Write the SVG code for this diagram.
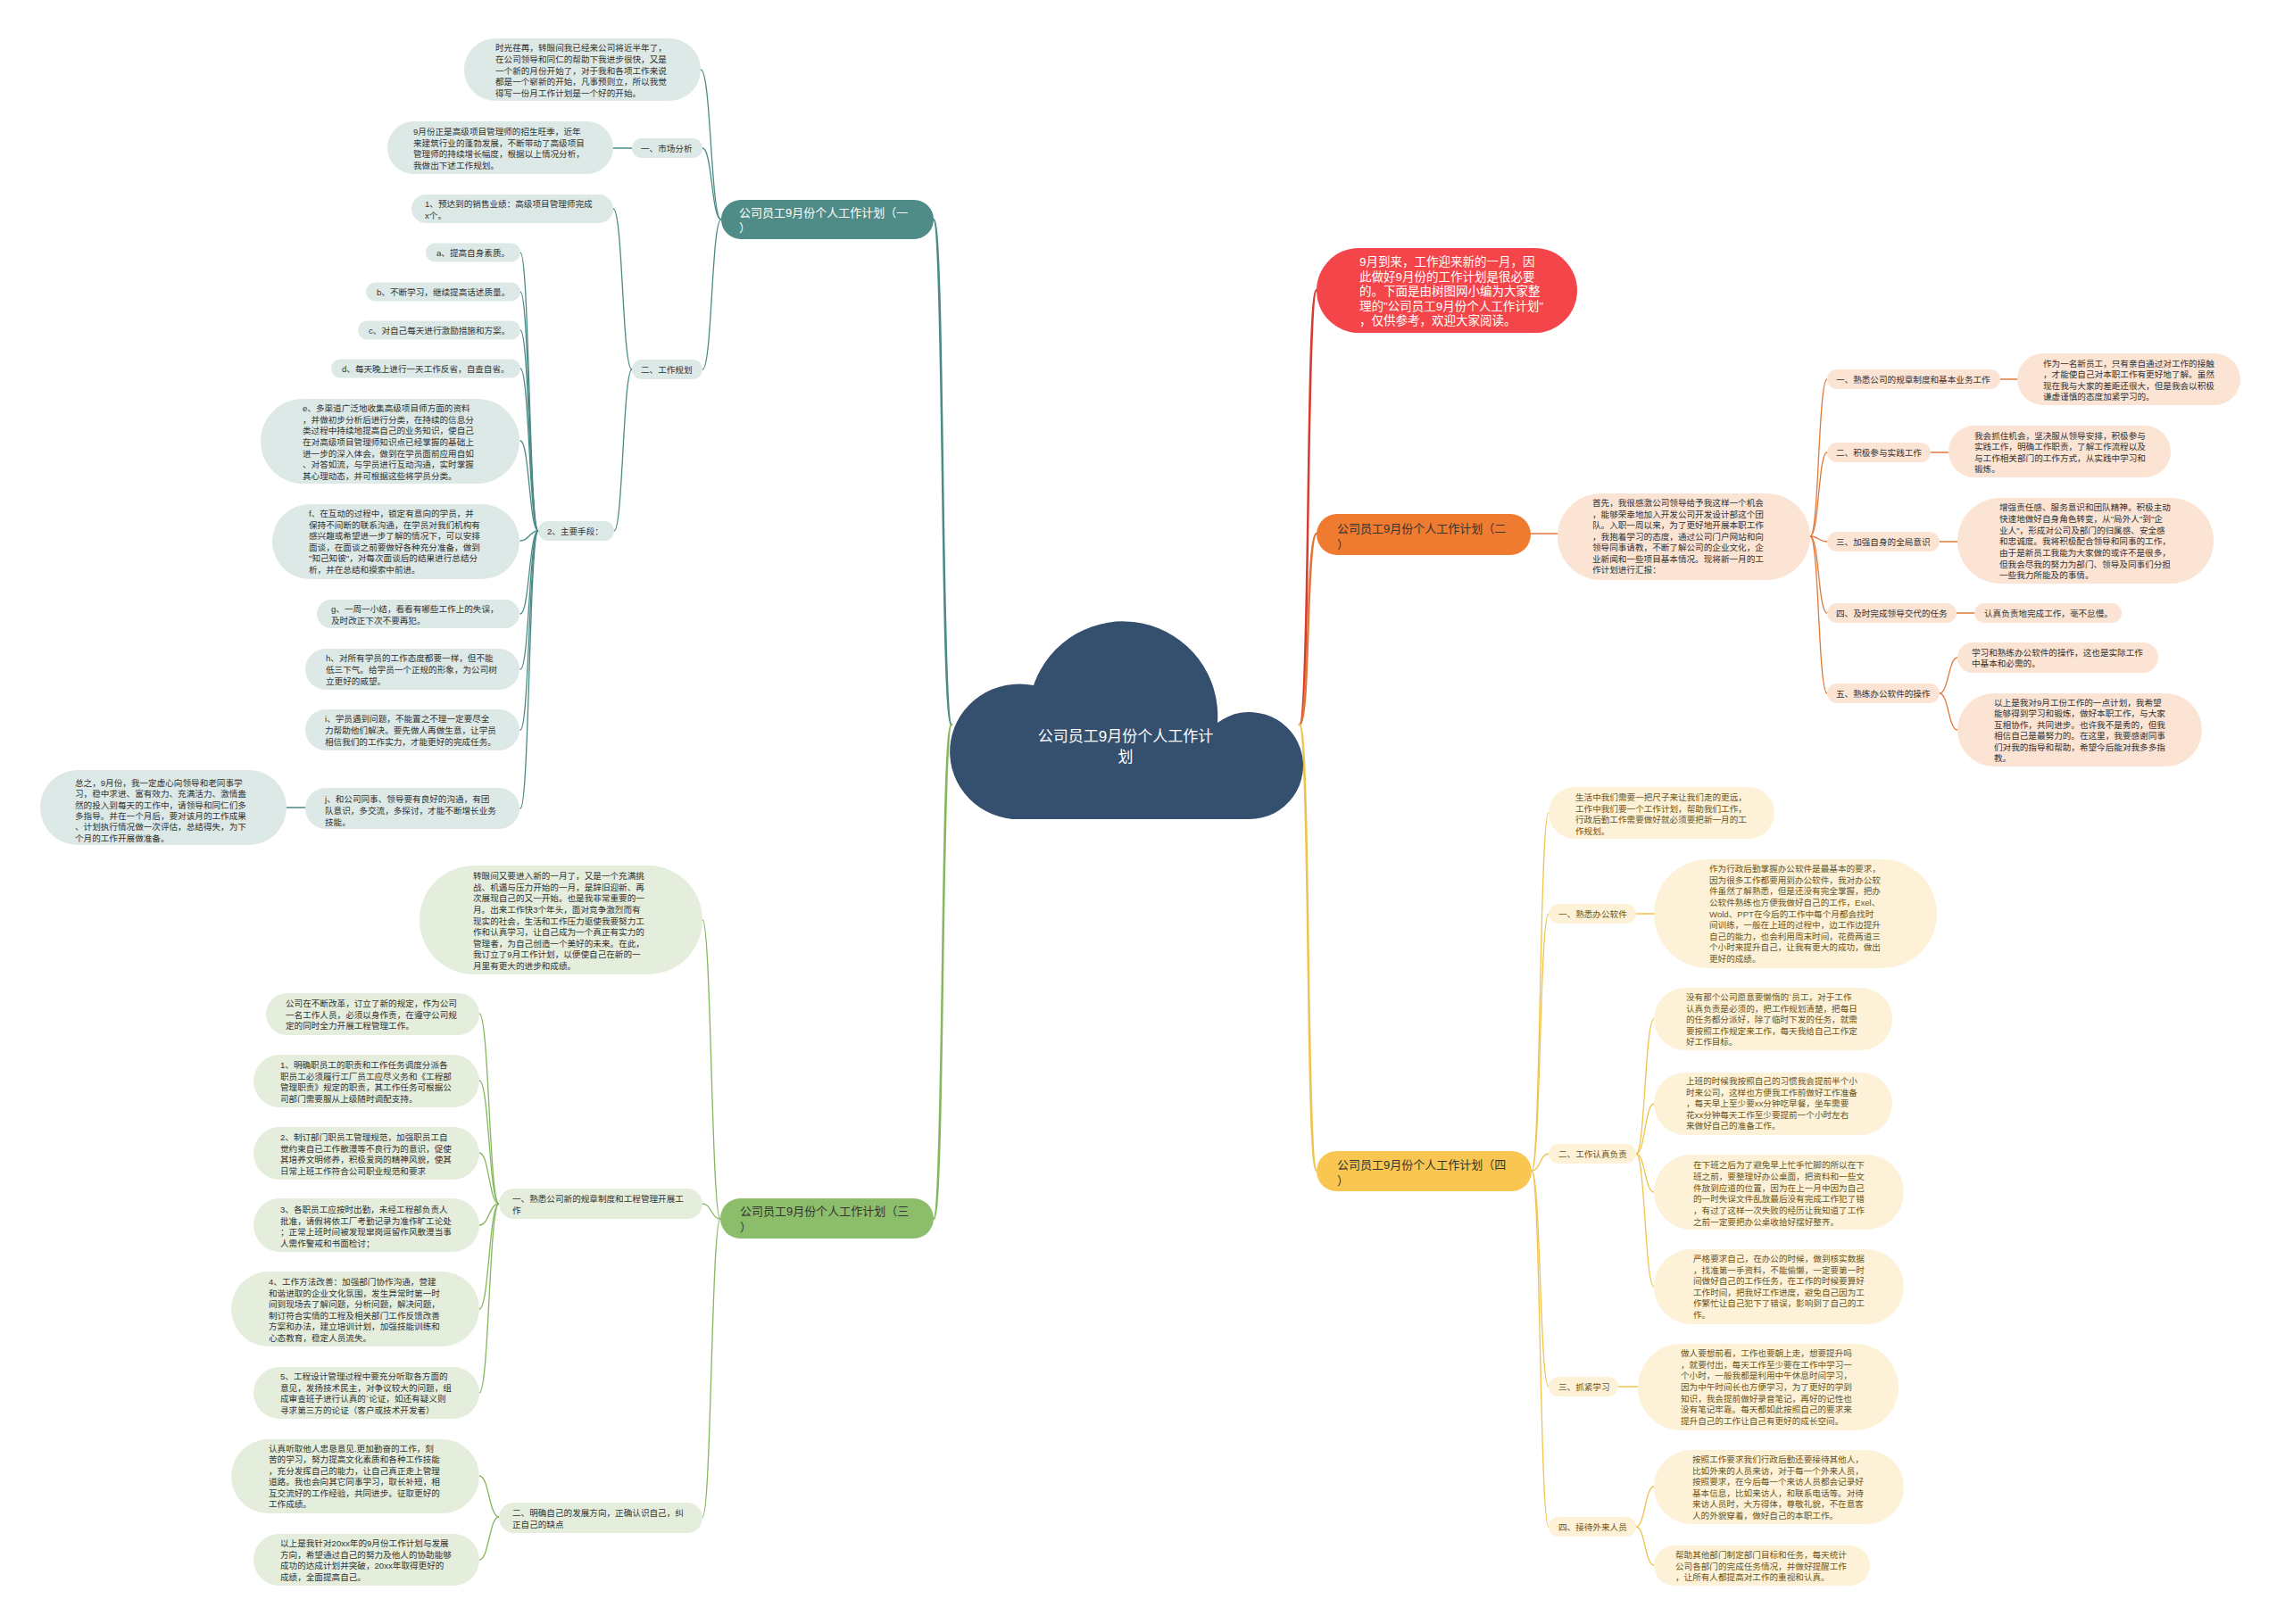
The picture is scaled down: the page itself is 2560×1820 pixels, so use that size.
<svg xmlns="http://www.w3.org/2000/svg" width="2560" height="1820" viewBox="0 0 2560 1820">
<style>
text{font-family:"Liberation Sans","Noto Sans CJK SC",sans-serif;dominant-baseline:central}
.s{font-size:9.6px;fill:#333}
.m{font-size:13px;fill:#333}
.tl rect{fill:#dde9e6}
.or rect{fill:#fce4d5}
.gr rect{fill:#e5eedd}
.yl rect{fill:#fdf2d8}
.yl text{fill:#6b5520}
#conn path{fill:none;stroke-linecap:round}
.ct{stroke:#4b8a85}.co{stroke:#e0783a}.cr{stroke:#d83b2f}.cg{stroke:#85b75f}.cy{stroke:#efc34e}
.w2{stroke-width:2.5}.w1{stroke-width:1.3}
</style>
<rect width="2560" height="1820" fill="#ffffff"/>
<g id="conn">
<path class="ct w2" d="M1066 812 C1054 812 1058 246 1046 246"/>
<path class="cg w2" d="M1066 812 C1054 812 1058 1366 1046 1366"/>
<path class="cr w2" d="M1456 812 C1468 812 1463 325 1475 325"/>
<path class="co w2" d="M1456 812 C1468 812 1463 598 1475 598"/>
<path class="cy w2" d="M1456 812 C1468 812 1463 1312 1475 1312"/>
<path class="ct w1" d="M808 246 C796 246 797 78 785 78"/>
<path class="ct w1" d="M808 246 C797 246 798 166 787 166"/>
<path class="ct w1" d="M808 246 C797 246 798 414 787 414"/>
<path class="ct w1" d="M708 166 L687 166"/>
<path class="ct w1" d="M708 414 C697 414 698 234 687 234"/>
<path class="ct w1" d="M708 414 C698 414 698 595 688 595"/>
<path class="ct w1" d="M603 595 C593 595 593 283 583 283"/>
<path class="ct w1" d="M603 595 C593 595 593 327 583 327"/>
<path class="ct w1" d="M603 595 C593 595 593 370 583 370"/>
<path class="ct w1" d="M603 595 C593 595 593 413 583 413"/>
<path class="ct w1" d="M603 595 C593 595 593 494 583 494"/>
<path class="ct w1" d="M603 595 C593 595 593 606 583 606"/>
<path class="ct w1" d="M603 595 C593 595 593 688 583 688"/>
<path class="ct w1" d="M603 595 C593 595 593 750 583 750"/>
<path class="ct w1" d="M603 595 C593 595 593 818 583 818"/>
<path class="ct w1" d="M603 595 C593 595 593 906 583 906"/>
<path class="ct w1" d="M321 905 L342 905"/>
<path class="co w1" d="M1715 598 L1745 598"/>
<path class="co w1" d="M2028 601 C2038 601 2037 425 2047 425"/>
<path class="co w1" d="M2028 601 C2038 601 2037 507 2047 507"/>
<path class="co w1" d="M2028 601 C2038 601 2037 607 2047 607"/>
<path class="co w1" d="M2028 601 C2038 601 2037 687 2047 687"/>
<path class="co w1" d="M2028 601 C2038 601 2037 777 2047 777"/>
<path class="co w1" d="M2241 425 L2260 425"/>
<path class="co w1" d="M2163 507 L2183 507"/>
<path class="co w1" d="M2173 607 L2193 607"/>
<path class="co w1" d="M2192 687 L2212 687"/>
<path class="co w1" d="M2173 777 C2183 777 2183 737 2193 737"/>
<path class="co w1" d="M2173 777 C2183 777 2183 818 2193 818"/>
<path class="cg w1" d="M807 1366 C797 1366 797 1031 787 1031"/>
<path class="cg w1" d="M807 1366 C797 1366 797 1349 787 1349"/>
<path class="cg w1" d="M807 1366 C797 1366 797 1700 787 1700"/>
<path class="cg w1" d="M559 1349 C548 1349 548 1136 537 1136"/>
<path class="cg w1" d="M559 1349 C548 1349 548 1211 537 1211"/>
<path class="cg w1" d="M559 1349 C548 1349 548 1292 537 1292"/>
<path class="cg w1" d="M559 1349 C548 1349 548 1373 537 1373"/>
<path class="cg w1" d="M559 1349 C548 1349 548 1467 537 1467"/>
<path class="cg w1" d="M559 1349 C548 1349 548 1561 537 1561"/>
<path class="cg w1" d="M559 1700 C548 1700 548 1654 537 1654"/>
<path class="cg w1" d="M559 1700 C548 1700 548 1748 537 1748"/>
<path class="cy w1" d="M1716 1312 C1726 1312 1725 911 1735 911"/>
<path class="cy w1" d="M1716 1312 C1726 1312 1725 1024 1735 1024"/>
<path class="cy w1" d="M1716 1312 C1726 1312 1725 1293 1735 1293"/>
<path class="cy w1" d="M1716 1312 C1726 1312 1725 1554 1735 1554"/>
<path class="cy w1" d="M1716 1312 C1726 1312 1725 1711 1735 1711"/>
<path class="cy w1" d="M1833 1024 L1853 1024"/>
<path class="cy w1" d="M1833 1293 C1843 1293 1843 1142 1853 1142"/>
<path class="cy w1" d="M1833 1293 C1843 1293 1843 1237 1853 1237"/>
<path class="cy w1" d="M1833 1293 C1843 1293 1843 1336 1853 1336"/>
<path class="cy w1" d="M1833 1293 C1843 1293 1843 1442 1853 1442"/>
<path class="cy w1" d="M1813 1554 L1835 1554"/>
<path class="cy w1" d="M1833 1711 C1843 1711 1843 1666 1853 1666"/>
<path class="cy w1" d="M1833 1711 C1843 1711 1843 1754 1853 1754"/>
</g>

<g id="root">
<path d="M1134 918 A78 76 0 1 1 1158 768 A106 106 0 0 1 1364 810 A60 60 0 1 1 1400 918 Z" fill="#35506e"/>
<text x="1261" y="825" text-anchor="middle" style="font-size:17px;fill:#ffffff">公司员工9月份个人工作计</text>
<text x="1261" y="848" text-anchor="middle" style="font-size:17px;fill:#ffffff">划</text>
</g>

<!-- Branch 1 -->
<g id="b1-main"><rect x="808" y="224" width="238" height="44" rx="22" fill="#4f8b87"/>
<text class="m" style="fill:#ffffff"><tspan x="828" y="238">公司员工9月份个人工作计划（一</tspan><tspan x="828" y="255">）</tspan></text></g>
<g id="b1-intro" class="tl"><rect x="520" y="43" width="265" height="70" rx="35"/>
<text class="s"><tspan x="555" y="53">时光荏苒，转眼间我已经来公司将近半年了，</tspan><tspan x="555" y="65.8">在公司领导和同仁的帮助下我进步很快，又是</tspan><tspan x="555" y="78.5">一个新的月份开始了，对于我和各项工作来说</tspan><tspan x="555" y="91.3">都是一个崭新的开始，凡事预则立，所以我觉</tspan><tspan x="555" y="104">得写一份月工作计划是一个好的开始。</tspan></text></g>
<g id="b1-s1" class="tl"><rect x="708" y="155" width="79" height="22" rx="11"/><text class="s" x="718" y="166">一、市场分析</text></g>
<g id="b1-s1-leaf" class="tl"><rect x="434" y="136" width="253" height="59" rx="29.5"/>
<text class="s"><tspan x="463" y="147">9月份正是高级项目管理师的招生旺季，近年</tspan><tspan x="463" y="159.5">来建筑行业的蓬勃发展，不断带动了高级项目</tspan><tspan x="463" y="172">管理师的持续增长幅度，根据以上情况分析，</tspan><tspan x="463" y="184.5">我做出下述工作规划。</tspan></text></g>
<g id="b1-s2" class="tl"><rect x="708" y="403" width="79" height="22" rx="11"/><text class="s" x="718" y="414">二、工作规划</text></g>
<g id="b1-p1" class="tl"><rect x="461" y="218" width="226" height="32" rx="16"/>
<text class="s"><tspan x="476" y="228">1、预达到的销售业绩：高级项目管理师完成</tspan><tspan x="476" y="240.5">x个。</tspan></text></g>
<g id="b1-p2" class="tl"><rect x="603" y="584" width="85" height="22" rx="11"/><text class="s" x="613" y="595">2、主要手段：</text></g>
<g id="b1-a" class="tl"><rect x="477" y="272.5" width="106" height="21" rx="10.5"/><text class="s" x="489" y="283">a、提高自身素质。</text></g>
<g id="b1-b" class="tl"><rect x="410" y="316.5" width="173" height="21" rx="10.5"/><text class="s" x="422" y="327">b、不断学习，继续提高话述质量。</text></g>
<g id="b1-c" class="tl"><rect x="401" y="359.5" width="182" height="21" rx="10.5"/><text class="s" x="413" y="370">c、对自己每天进行激励措施和方案。</text></g>
<g id="b1-d" class="tl"><rect x="371" y="402.5" width="212" height="21" rx="10.5"/><text class="s" x="383" y="413">d、每天晚上进行一天工作反省，自查自省。</text></g>
<g id="b1-e" class="tl"><rect x="292" y="447" width="290" height="95" rx="47.5"/>
<text class="s"><tspan x="339" y="457">e、多渠道广泛地收集高级项目师方面的资料</tspan><tspan x="339" y="469.7">，并做初步分析后进行分类，在持续的信息分</tspan><tspan x="339" y="482.3">类过程中持续地提高自己的业务知识，使自己</tspan><tspan x="339" y="495">在对高级项目管理师知识点已经掌握的基础上</tspan><tspan x="339" y="507.7">进一步的深入体会，做到在学员面前应用自如</tspan><tspan x="339" y="520.3">、对答如流，与学员进行互动沟通，实时掌握</tspan><tspan x="339" y="533">其心理动态，并可根据这些将学员分类。</tspan></text></g>
<g id="b1-f" class="tl"><rect x="305" y="565" width="277" height="84" rx="42"/>
<text class="s"><tspan x="346" y="575">f、在互动的过程中，锁定有意向的学员，并</tspan><tspan x="346" y="587.6">保持不间断的联系沟通，在学员对我们机构有</tspan><tspan x="346" y="600.2">感兴趣或希望进一步了解的情况下，可以安排</tspan><tspan x="346" y="612.8">面谈，在面谈之前要做好各种充分准备，做到</tspan><tspan x="346" y="625.4">"知己知彼"，对每次面谈后的结果进行总结分</tspan><tspan x="346" y="638">析，并在总结和摸索中前进。</tspan></text></g>
<g id="b1-g" class="tl"><rect x="355" y="672" width="227" height="32" rx="16"/>
<text class="s"><tspan x="371" y="682">g、一周一小结，看看有哪些工作上的失误，</tspan><tspan x="371" y="694.5">及时改正下次不要再犯。</tspan></text></g>
<g id="b1-h" class="tl"><rect x="342" y="727" width="240" height="46" rx="23"/>
<text class="s"><tspan x="365" y="737">h、对所有学员的工作态度都要一样，但不能</tspan><tspan x="365" y="750">低三下气。给学员一个正规的形象，为公司树</tspan><tspan x="365" y="763">立更好的威望。</tspan></text></g>
<g id="b1-i" class="tl"><rect x="342" y="795" width="240" height="46" rx="23"/>
<text class="s"><tspan x="364" y="805">i、学员遇到问题，不能置之不理一定要尽全</tspan><tspan x="364" y="818">力帮助他们解决。要先做人再做生意，让学员</tspan><tspan x="364" y="830.5">相信我们的工作实力，才能更好的完成任务。</tspan></text></g>
<g id="b1-j" class="tl"><rect x="342" y="883" width="240" height="46" rx="23"/>
<text class="s"><tspan x="364" y="895">j、和公司同事、领导要有良好的沟通，有团</tspan><tspan x="364" y="908">队意识，多交流，多探讨，才能不断增长业务</tspan><tspan x="364" y="920.5">技能。</tspan></text></g>
<g id="b1-sum" class="tl"><rect x="45" y="863" width="276" height="84" rx="42"/>
<text class="s"><tspan x="84" y="877">总之，9月份，我一定虚心向领导和老同事学</tspan><tspan x="84" y="889.3">习，稳中求进、富有效力、充满活力、激情盎</tspan><tspan x="84" y="901.6">然的投入到每天的工作中，请领导和同仁们多</tspan><tspan x="84" y="913.9">多指导。并在一个月后，要对该月的工作成果</tspan><tspan x="84" y="926.2">、计划执行情况做一次评估，总结得失，为下</tspan><tspan x="84" y="938.5">个月的工作开展做准备。</tspan></text></g>

<!-- Intro red -->
<g id="intro"><rect x="1475" y="278" width="292" height="95" rx="47.5" fill="#f3454a"/>
<text style="font-size:13.5px;fill:#ffffff"><tspan x="1523" y="293">9月到来，工作迎来新的一月，因</tspan><tspan x="1523" y="309.5">此做好9月份的工作计划是很必要</tspan><tspan x="1523" y="326">的。下面是由树图网小编为大家整</tspan><tspan x="1523" y="342.5">理的"公司员工9月份个人工作计划"</tspan><tspan x="1523" y="359">，仅供参考，欢迎大家阅读。</tspan></text></g>

<!-- Branch 2 -->
<g id="b2-main"><rect x="1475" y="576" width="240" height="46" rx="23" fill="#ee7b30"/>
<text class="m"><tspan x="1498" y="592">公司员工9月份个人工作计划（二</tspan><tspan x="1498" y="609.5">）</tspan></text></g>
<g id="b2-leaf" class="or"><rect x="1745" y="553" width="283" height="97" rx="48.5"/>
<text class="s"><tspan x="1784" y="563">首先，我很感激公司领导给予我这样一个机会</tspan><tspan x="1784" y="575.5">，能够荣幸地加入开发公司开发设计部这个团</tspan><tspan x="1784" y="588">队。入职一周以来，为了更好地开展本职工作</tspan><tspan x="1784" y="600.5">，我抱着学习的态度，通过公司门户网站和向</tspan><tspan x="1784" y="613">领导同事请教，不断了解公司的企业文化，企</tspan><tspan x="1784" y="625.5">业新闻和一些项目基本情况。现将新一月的工</tspan><tspan x="1784" y="638">作计划进行汇报：</tspan></text></g>
<g id="b2-s1" class="or"><rect x="2047" y="414" width="194" height="22" rx="11"/><text class="s" x="2057" y="425">一、熟悉公司的规章制度和基本业务工作</text></g>
<g id="b2-s1-leaf" class="or"><rect x="2260" y="396" width="250" height="58" rx="29"/>
<text class="s"><tspan x="2289" y="406.5">作为一名新员工，只有亲自通过对工作的接触</tspan><tspan x="2289" y="419">，才能使自己对本职工作有更好地了解。虽然</tspan><tspan x="2289" y="431.5">现在我与大家的差距还很大，但是我会以积极</tspan><tspan x="2289" y="444">谦虚谨慎的态度加紧学习的。</tspan></text></g>
<g id="b2-s2" class="or"><rect x="2047" y="496" width="116" height="22" rx="11"/><text class="s" x="2057" y="507">二、积极参与实践工作</text></g>
<g id="b2-s2-leaf" class="or"><rect x="2183" y="477" width="249" height="58" rx="29"/>
<text class="s"><tspan x="2212" y="487.5">我会抓住机会，坚决服从领导安排，积极参与</tspan><tspan x="2212" y="500">实践工作，明确工作职责，了解工作流程以及</tspan><tspan x="2212" y="512.5">与工作相关部门的工作方式，从实践中学习和</tspan><tspan x="2212" y="525">锻炼。</tspan></text></g>
<g id="b2-s3" class="or"><rect x="2047" y="596" width="126" height="22" rx="11"/><text class="s" x="2057" y="607">三、加强自身的全局意识</text></g>
<g id="b2-s3-leaf" class="or"><rect x="2193" y="558" width="287" height="96" rx="48"/>
<text class="s"><tspan x="2240" y="568.3">增强责任感、服务意识和团队精神。积极主动</tspan><tspan x="2240" y="581">快速地做好自身角色转变，从"局外人"到"企</tspan><tspan x="2240" y="593.6">业人"，形成对公司及部门的归属感、安全感</tspan><tspan x="2240" y="606.3">和忠诚度。我将积极配合领导和同事的工作，</tspan><tspan x="2240" y="619">由于是新员工我能为大家做的或许不是很多，</tspan><tspan x="2240" y="631.6">但我会尽我的努力为部门、领导及同事们分担</tspan><tspan x="2240" y="644.3">一些我力所能及的事情。</tspan></text></g>
<g id="b2-s4" class="or"><rect x="2047" y="676" width="145" height="22" rx="11"/><text class="s" x="2057" y="687">四、及时完成领导交代的任务</text></g>
<g id="b2-s4-leaf" class="or"><rect x="2212" y="676" width="165" height="22" rx="11"/><text class="s" x="2223" y="687">认真负责地完成工作，毫不怠慢。</text></g>
<g id="b2-s5" class="or"><rect x="2047" y="766" width="126" height="22" rx="11"/><text class="s" x="2057" y="777">五、熟练办公软件的操作</text></g>
<g id="b2-s5-leaf1" class="or"><rect x="2193" y="720" width="225" height="34" rx="17"/>
<text class="s"><tspan x="2209" y="730.5">学习和熟练办公软件的操作，这也是实际工作</tspan><tspan x="2209" y="743">中基本和必需的。</tspan></text></g>
<g id="b2-s5-leaf2" class="or"><rect x="2193" y="777" width="274" height="82" rx="41"/>
<text class="s"><tspan x="2234" y="786.5">以上是我对9月工份工作的一点计划，我希望</tspan><tspan x="2234" y="799">能够得到学习和锻炼，做好本职工作，与大家</tspan><tspan x="2234" y="811.5">互相协作，共同进步。也许我不是秀的，但我</tspan><tspan x="2234" y="824">相信自己是最努力的。在这里，我要感谢同事</tspan><tspan x="2234" y="836.5">们对我的指导和帮助，希望今后能对我多多指</tspan><tspan x="2234" y="849">教。</tspan></text></g>

<!-- Branch 3 -->
<g id="b3-main"><rect x="807" y="1343" width="239" height="45" rx="22.5" fill="#8cbd6b"/>
<text class="m"><tspan x="829" y="1357">公司员工9月份个人工作计划（三</tspan><tspan x="829" y="1374.5">）</tspan></text></g>
<g id="b3-intro" class="gr"><rect x="470" y="970" width="317" height="122" rx="61"/>
<text class="s"><tspan x="530" y="981">转眼间又要进入新的一月了，又是一个充满挑</tspan><tspan x="530" y="993.6">战、机遇与压力开始的一月，是辞旧迎新、再</tspan><tspan x="530" y="1006.2">次展现自己的又一开始。也是我非常重要的一</tspan><tspan x="530" y="1018.9">月。出来工作快3个年头，面对竞争激烈而有</tspan><tspan x="530" y="1031.5">现实的社会，生活和工作压力驱使我要努力工</tspan><tspan x="530" y="1044.1">作和认真学习，让自己成为一个真正有实力的</tspan><tspan x="530" y="1056.7">管理者，为自己创造一个美好的未来。在此，</tspan><tspan x="530" y="1069.4">我订立了9月工作计划，以便使自己在新的一</tspan><tspan x="530" y="1082">月里有更大的进步和成绩。</tspan></text></g>
<g id="b3-s1" class="gr"><rect x="559" y="1332" width="228" height="34" rx="17"/>
<text class="s"><tspan x="574" y="1343">一、熟悉公司新的规章制度和工程管理开展工</tspan><tspan x="574" y="1355.5">作</tspan></text></g>
<g id="b3-c1" class="gr"><rect x="298" y="1113" width="239" height="47" rx="23.5"/>
<text class="s"><tspan x="320" y="1124">公司在不断改革，订立了新的规定，作为公司</tspan><tspan x="320" y="1136.7">一名工作人员，必须以身作责，在遵守公司规</tspan><tspan x="320" y="1149.3">定的同时全力开展工程管理工作。</tspan></text></g>
<g id="b3-c2" class="gr"><rect x="284" y="1182" width="253" height="59" rx="29.5"/>
<text class="s"><tspan x="314" y="1193">1、明确职员工的职责和工作任务调度分派各</tspan><tspan x="314" y="1205.7">职员工必须履行工厂员工应尽义务和《工程部</tspan><tspan x="314" y="1218.3">管理职责》规定的职责，其工作任务可根据公</tspan><tspan x="314" y="1231">司部门需要服从上级随时调配支持。</tspan></text></g>
<g id="b3-c3" class="gr"><rect x="284" y="1263" width="253" height="59" rx="29.5"/>
<text class="s"><tspan x="314" y="1274">2、制订部门职员工管理规范，加强职员工自</tspan><tspan x="314" y="1286.5">觉约束自已工作散漫等不良行为的意识，促使</tspan><tspan x="314" y="1299">其培养文明修养，积极爱岗的精神风貌，使其</tspan><tspan x="314" y="1311.5">日常上班工作符合公司职业规范和要求</tspan></text></g>
<g id="b3-c4" class="gr"><rect x="284" y="1343" width="253" height="60" rx="30"/>
<text class="s"><tspan x="314" y="1355">3、各职员工应按时出勤，未经工程部负责人</tspan><tspan x="314" y="1367.5">批准，请假将依工厂考勤记录为准作旷工论处</tspan><tspan x="314" y="1380">；正常上班时间被发现窜岗逗留作风散漫当事</tspan><tspan x="314" y="1392.5">人需作警戒和书面检讨；</tspan></text></g>
<g id="b3-c5" class="gr"><rect x="259" y="1425" width="278" height="84" rx="42"/>
<text class="s"><tspan x="301" y="1436">4、工作方法改善：加强部门协作沟通，营建</tspan><tspan x="301" y="1448.6">和谐进取的企业文化氛围，发生异常时第一时</tspan><tspan x="301" y="1461.2">间到现场去了解问题，分析问题，解决问题，</tspan><tspan x="301" y="1473.8">制订符合实情的工程及相关部门工作反馈改善</tspan><tspan x="301" y="1486.4">方案和办法，建立培训计划，加强技能训练和</tspan><tspan x="301" y="1499">心态教育，稳定人员流失。</tspan></text></g>
<g id="b3-c6" class="gr"><rect x="284" y="1532" width="253" height="58" rx="29"/>
<text class="s"><tspan x="314" y="1542">5、工程设计管理过程中要充分听取各方面的</tspan><tspan x="314" y="1554.7">意见，发扬技术民主，对争议较大的问题，组</tspan><tspan x="314" y="1567.3">成审查班子进行认真的`论证，如还有疑义则</tspan><tspan x="314" y="1580">寻求第三方的论证（客户或技术开发者）</tspan></text></g>
<g id="b3-s2" class="gr"><rect x="559" y="1684" width="228" height="34" rx="17"/>
<text class="s"><tspan x="574" y="1695">二、明确自己的发展方向，正确认识自己，纠</tspan><tspan x="574" y="1707.5">正自己的缺点</tspan></text></g>
<g id="b3-d1" class="gr"><rect x="259" y="1613" width="278" height="83" rx="41.5"/>
<text class="s"><tspan x="301" y="1623">认真听取他人忠恳意见.更加勤奋的工作，刻</tspan><tspan x="301" y="1635.4">苦的学习，努力提高文化素质和各种工作技能</tspan><tspan x="301" y="1647.8">，充分发挥自己的能力，让自己真正走上管理</tspan><tspan x="301" y="1660.2">道路。我也会向其它同事学习，取长补短，相</tspan><tspan x="301" y="1672.6">互交流好的工作经验，共同进步。征取更好的</tspan><tspan x="301" y="1685">工作成绩。</tspan></text></g>
<g id="b3-d2" class="gr"><rect x="284" y="1719" width="253" height="58" rx="29"/>
<text class="s"><tspan x="314" y="1729">以上是我针对20xx年的9月份工作计划与发展</tspan><tspan x="314" y="1741.7">方向，希望通过自己的努力及他人的协助能够</tspan><tspan x="314" y="1754.3">成功的达成计划并突破，20xx年取得更好的</tspan><tspan x="314" y="1767">成绩，全面提高自己。</tspan></text></g>

<!-- Branch 4 -->
<g id="b4-main"><rect x="1475" y="1290" width="241" height="45" rx="22.5" fill="#f8c651"/>
<text class="m"><tspan x="1498" y="1305">公司员工9月份个人工作计划（四</tspan><tspan x="1498" y="1323">）</tspan></text></g>
<g id="b4-intro" class="yl"><rect x="1735" y="882" width="253" height="58" rx="29"/>
<text class="s"><tspan x="1765" y="893">生活中我们需要一把尺子来让我们走的更远，</tspan><tspan x="1765" y="905.5">工作中我们要一个工作计划，帮助我们工作，</tspan><tspan x="1765" y="918">行政后勤工作需要做好就必须要把新一月的工</tspan><tspan x="1765" y="930.5">作规划。</tspan></text></g>
<g id="b4-s1" class="yl"><rect x="1735" y="1013" width="98" height="22" rx="11"/><text class="s" x="1746" y="1024">一、熟悉办公软件</text></g>
<g id="b4-s1-leaf" class="yl"><rect x="1853" y="963" width="317" height="122" rx="61"/>
<text class="s"><tspan x="1915" y="973">作为行政后勤掌握办公软件是最基本的要求，</tspan><tspan x="1915" y="985.6">因为很多工作都要用到办公软件，我对办公软</tspan><tspan x="1915" y="998.2">件虽然了解熟悉，但是还没有完全掌握，把办</tspan><tspan x="1915" y="1010.9">公软件熟练也方便我做好自己的工作，Exel、</tspan><tspan x="1915" y="1023.5">Wold、PPT在今后的工作中每个月都会找时</tspan><tspan x="1915" y="1036.1">间训练，一般在上班的过程中，边工作边提升</tspan><tspan x="1915" y="1048.7">自己的能力，也会利用周末时间，花费两道三</tspan><tspan x="1915" y="1061.4">个小时来提升自己，让我有更大的成功，做出</tspan><tspan x="1915" y="1074">更好的成绩。</tspan></text></g>
<g id="b4-s2" class="yl"><rect x="1735" y="1282" width="98" height="22" rx="11"/><text class="s" x="1746" y="1293">二、工作认真负责</text></g>
<g id="b4-s2-l1" class="yl"><rect x="1853" y="1107" width="267" height="70" rx="35"/>
<text class="s"><tspan x="1889" y="1117">没有那个公司愿意要懒惰的`员工，对于工作</tspan><tspan x="1889" y="1129.5">认真负责是必须的，把工作规划清楚，把每日</tspan><tspan x="1889" y="1142">的任务都分派好，除了临时下发的任务，就需</tspan><tspan x="1889" y="1154.5">要按照工作规定来工作，每天我给自己工作定</tspan><tspan x="1889" y="1167">好工作目标。</tspan></text></g>
<g id="b4-s2-l2" class="yl"><rect x="1853" y="1202" width="267" height="70" rx="35"/>
<text class="s"><tspan x="1889" y="1211">上班的时候我按照自己的习惯我会提前半个小</tspan><tspan x="1889" y="1223.5">时来公司，这样也方便我工作前做好工作准备</tspan><tspan x="1889" y="1236">，每天早上至少要xx分钟吃早餐，坐车需要</tspan><tspan x="1889" y="1248.5">花xx分钟每天工作至少要提前一个小时左右</tspan><tspan x="1889" y="1261">来做好自己的准备工作。</tspan></text></g>
<g id="b4-s2-l3" class="yl"><rect x="1853" y="1294" width="280" height="84" rx="42"/>
<text class="s"><tspan x="1897" y="1305">在下班之后为了避免早上忙手忙脚的所以在下</tspan><tspan x="1897" y="1317.8">班之前，要整理好办公桌面，把资料和一些文</tspan><tspan x="1897" y="1330.6">件放到应道的位置，因为在上一月中因为自己</tspan><tspan x="1897" y="1343.4">的一时失误文件乱放最后没有完成工作犯了错</tspan><tspan x="1897" y="1356.2">，有过了这样一次失败的经历让我知道了工作</tspan><tspan x="1897" y="1369">之前一定要把办公桌收拾好摆好整齐。</tspan></text></g>
<g id="b4-s2-l4" class="yl"><rect x="1853" y="1400" width="280" height="84" rx="42"/>
<text class="s"><tspan x="1897" y="1410">严格要求自己，在办公的时候，做到核实数据</tspan><tspan x="1897" y="1422.6">，找准第一手资料，不能偷懒，一定要第一时</tspan><tspan x="1897" y="1435.2">间做好自己的工作任务，在工作的时候要算好</tspan><tspan x="1897" y="1447.8">工作时间，把我好工作进度，避免自己因为工</tspan><tspan x="1897" y="1460.4">作繁忙让自己犯下了错误，影响到了自己的工</tspan><tspan x="1897" y="1473">作。</tspan></text></g>
<g id="b4-s3" class="yl"><rect x="1735" y="1543" width="78" height="22" rx="11"/><text class="s" x="1746" y="1554">三、抓紧学习</text></g>
<g id="b4-s3-leaf" class="yl"><rect x="1835" y="1506" width="292" height="97" rx="48.5"/>
<text class="s"><tspan x="1883" y="1516">做人要想前看，工作也要朝上走，想要提升吗</tspan><tspan x="1883" y="1528.7">，就要付出，每天工作至少要在工作中学习一</tspan><tspan x="1883" y="1541.3">个小时，一般我都是利用中午休息时间学习，</tspan><tspan x="1883" y="1554">因为中午时间长也方便学习，为了更好的学到</tspan><tspan x="1883" y="1566.7">知识，我会提前做好录音笔记，再好的记性也</tspan><tspan x="1883" y="1579.3">没有笔记牢靠。每天都如此按照自己的要求来</tspan><tspan x="1883" y="1592">提升自己的工作让自己有更好的成长空间。</tspan></text></g>
<g id="b4-s4" class="yl"><rect x="1735" y="1700" width="98" height="22" rx="11"/><text class="s" x="1746" y="1711">四、接待外来人员</text></g>
<g id="b4-s4-l1" class="yl"><rect x="1853" y="1625" width="280" height="83" rx="41.5"/>
<text class="s"><tspan x="1896" y="1635">按照工作要求我们行政后勤还要接待其他人，</tspan><tspan x="1896" y="1647.6">比如外来的人员来访，对于每一个外来人员，</tspan><tspan x="1896" y="1660.2">按照要求，在今后每一个来访人员都会记录好</tspan><tspan x="1896" y="1672.8">基本信息，比如来访人，和联系电话等。对待</tspan><tspan x="1896" y="1685.4">来访人员时，大方得体，尊敬礼貌，不在意客</tspan><tspan x="1896" y="1698">人的外貌穿着，做好自己的本职工作。</tspan></text></g>
<g id="b4-s4-l2" class="yl"><rect x="1853" y="1732" width="242" height="45" rx="22.5"/>
<text class="s"><tspan x="1877" y="1742">帮助其他部门制定部门目标和任务，每天统计</tspan><tspan x="1877" y="1754.5">公司各部门的完成任务情况，并做好提醒工作</tspan><tspan x="1877" y="1767">，让所有人都提高对工作的重视和认真。</tspan></text></g>
</svg>
